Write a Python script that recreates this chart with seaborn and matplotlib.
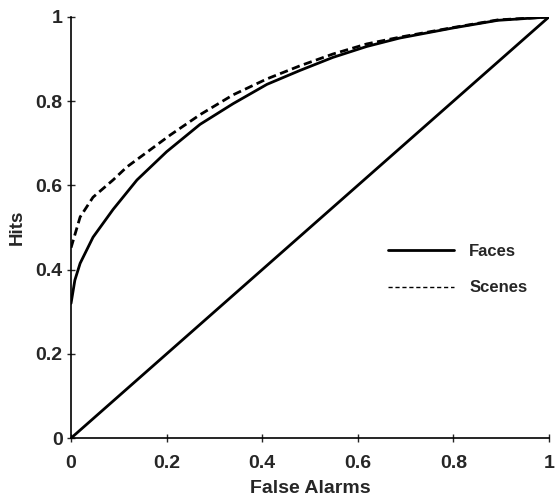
import pandas as pd
import matplotlib
matplotlib.use('Agg')
import matplotlib.pyplot as plt
import seaborn as sns

# ROC curves - hits vs false alarms
fa_faces = [0, 0.008, 0.019, 0.046, 0.088, 0.138, 0.2, 0.27, 0.339, 0.41, 0.479, 0.548, 0.619, 0.688, 0.8, 0.893, 1.0]
hits_faces = [0.32, 0.375, 0.415, 0.477, 0.543, 0.613, 0.68, 0.745, 0.794, 0.84, 0.873, 0.904, 0.93, 0.95, 0.974, 0.992, 1.0]

fa_scenes = [0, 0.019, 0.046, 0.088, 0.117, 0.159, 0.208, 0.27, 0.339, 0.41, 0.479, 0.548, 0.619, 0.688, 0.8, 0.893, 1.0]
hits_scenes = [0.452, 0.525, 0.572, 0.613, 0.644, 0.679, 0.72, 0.768, 0.815, 0.853, 0.884, 0.912, 0.936, 0.952, 0.975, 0.993, 1.0]

chance_x = [0, 1]
chance_y = [0, 1]

faces = pd.DataFrame({'fa': fa_faces, 'hits': hits_faces})
scenes = pd.DataFrame({'fa': fa_scenes, 'hits': hits_scenes})

sns.set_style('white')
plt.rcParams['font.family'] = ['Liberation Sans', 'DejaVu Sans']
plt.rcParams['font.weight'] = 'bold'

fig = plt.figure(figsize=(5.55, 4.99), dpi=100)
ax = fig.add_axes([0.128, 0.122, 0.861, 0.844])

sns.lineplot(data=faces, x='fa', y='hits', ax=ax, color='black', lw=2, label='Faces')
sns.lineplot(data=scenes, x='fa', y='hits', ax=ax, color='black', lw=2, ls=(0, (3, 1.6)), label='_nolegend_')
sns.lineplot(x=chance_x, y=chance_y, ax=ax, color='black', lw=2)

# legend shows scenes as a thin dashed line
ax.plot([], [], color='black', lw=1, ls=(0, (3, 2)), label='Scenes')

ax.set_xlim(0, 1)
ax.set_ylim(0, 1)
ax.set_xticks([0, 0.2, 0.4, 0.6, 0.8, 1])
ax.set_xticklabels(['0', '0.2', '0.4', '0.6', '0.8', '1'])
ax.set_yticks([0, 0.2, 0.4, 0.6, 0.8, 1])
ax.set_yticklabels(['0', '0.2', '0.4', '0.6', '0.8', '1'])
ax.tick_params(direction='inout', length=6, width=1, labelsize=14, pad=3, left=True, bottom=True)
ax.tick_params(axis='x', pad=9)
for s in ['top', 'right']:
    ax.spines[s].set_visible(False)
for s in ['left', 'bottom']:
    ax.spines[s].set_color('black')
    ax.spines[s].set_linewidth(1.2)

ax.set_xlabel('False Alarms', fontsize=14, fontweight='bold', labelpad=6)
ax.set_ylabel('Hits', fontsize=13.5, fontweight='bold', labelpad=7)

ax.legend(loc='center left', bbox_to_anchor=(0.631, 0.40), frameon=False, fontsize=12,
          handlelength=4.0, handletextpad=0.9, labelspacing=1.3)

fig.savefig('out.png', dpi=100)
